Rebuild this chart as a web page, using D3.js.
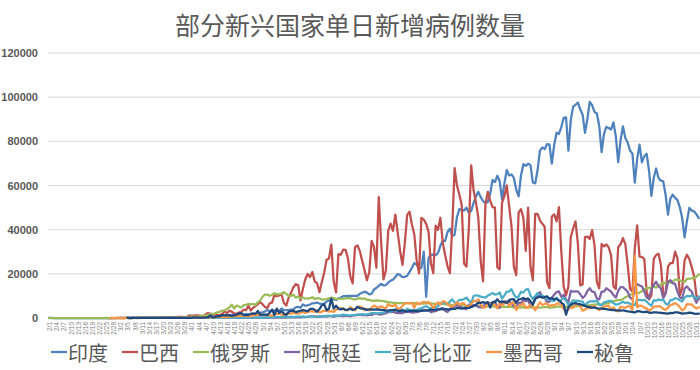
<!DOCTYPE html>
<html><head><meta charset="utf-8">
<script src="https://cdn.jsdelivr.net/npm/d3@7/dist/d3.min.js"></script>
<style>body{margin:0;background:#fff}svg{display:block}</style>
</head><body>
<svg id="chart" width="700" height="370"></svg>
<script>
const titleText = "部分新兴国家单日新增病例数量";
const seriesNames = ["印度","巴西","俄罗斯","阿根廷","哥伦比亚","墨西哥","秘鲁"];
const seriesColors = ["#4F81BD","#C0504D","#9BBB59","#8064A2","#4BACC6","#F79646","#1F497D"];
const yTickValues = [0,20000,40000,60000,80000,100000,120000];
const firstDay = "2020-02-01", lastDay = "2020-11-01";

const india = [
1,1,0,0,0,0,0,0,0,0,0,0,0,0,0,0,0,0,0,0,0,0,0,0,0,0,0,0,
0,2,1,22,2,1,3,5,9,15,8,10,7,26,5,25,25,46,50,89,73,69,77,93,65,160,156,193,106,227,146,
601,545,478,525,505,693,354,773,540,896,768,918,796,905,1463,1176,1076,957,1324,1893,1540,1290,1667,1408,1835,1607,1561,1873,1738,1801,
2396,2564,2952,3656,2971,3602,3344,3339,3175,4311,3592,3604,3524,3763,3942,4864,5050,4630,6147,5553,5720,6088,6654,6767,6977,6535,6387,6566,7466,7964,8380,
8392,8171,8909,9304,9851,9887,9971,9983,9987,9985,9996,10956,11458,11929,11502,10667,10974,12881,13586,14516,15413,14821,14933,15968,16922,17296,18552,19906,19459,18522,
18653,19148,20903,22771,24850,24248,22252,22752,30000,9600,27114,28637,28701,28498,29429,32695,34956,34884,38902,40425,37148,37724,45720,49310,48916,48661,49931,47703,48513,52123,55079,
57118,54735,52972,52050,52509,56282,62538,61537,64399,62064,53601,60963,66999,64553,65002,63490,57981,55079,64531,69652,68898,69878,69239,61408,60975,67151,75760,77266,76472,78761,78512,
69921,78357,83883,83341,86432,90632,90802,75809,89706,95735,96551,97570,94372,92071,83809,90123,97894,96424,93337,92605,86961,75083,83347,86508,86052,85362,88600,82170,70589,80472,
86821,81484,79476,75829,74442,61267,72049,78524,70496,73272,74383,66732,55342,63509,67708,63371,62212,61871,55722,46790,54044,55839,54366,53370,50129,45149,36470,43893,49881,48648,48268,
46963,45231];

const brazil = [
null,null,null,null,null,null,null,null,null,null,null,null,null,null,null,null,null,null,null,null,null,null,null,null,1,0,0,1,
0,0,0,1,5,5,6,6,0,7,9,18,25,21,23,79,34,57,137,193,283,224,418,345,310,232,482,502,487,352,323,
1138,1119,1074,1146,1222,852,926,1661,2210,1930,1781,1089,1442,1261,1832,3058,2105,3257,2917,2055,1927,2498,2678,3735,3503,5514,3379,4613,5385,6276,
7218,6209,4970,4588,6633,6935,10503,9888,10222,10611,6760,5632,9258,11385,13944,15305,14919,7938,13140,17408,19951,18508,20803,16508,15813,11687,16324,20599,26417,26928,33274,
16409,11598,28936,28633,30925,30830,27075,18912,15654,32091,32913,30412,25982,21704,17110,20647,34918,32188,22765,54771,34666,17459,21432,39436,42725,39483,46860,38693,30476,24052,
33846,46712,48105,42223,37923,26051,20229,45305,44571,42619,39023,24831,20286,41857,39924,45403,34177,28532,23529,20257,41008,67860,59961,55891,51147,24578,23284,40816,69074,57837,52383,
45392,25800,16641,51603,57152,53139,50230,49970,23010,22048,52160,55155,60091,50644,41576,23101,19373,47784,49298,45323,30355,50032,23421,17078,47134,47161,44235,42659,41350,16158,13540,
45961,46934,43773,50163,30168,14279,10273,14279,36653,40557,43718,33523,14768,15155,36653,36820,35816,39797,33057,16389,13439,33536,32445,33281,31911,28378,14318,13155,32058,33413,
36157,33413,24062,13155,11946,31553,41906,27750,27651,26749,11946,8429,10220,26749,28523,29068,24062,10920,11272,23227,24818,24858,30026,26979,10273,13493,26106,28629,26736,23046,18947,
10100,8501];

const russia = [
0,0,0,0,0,0,0,0,0,0,0,0,0,0,0,0,0,0,0,0,0,0,0,0,0,0,0,0,
0,1,0,0,1,1,0,3,7,0,8,6,11,14,4,30,20,24,52,54,53,71,57,57,163,182,196,228,270,302,500,
440,771,601,582,658,954,1154,1175,1459,1786,1667,2186,2558,2774,3388,3448,4070,4785,6060,4268,5642,5236,4774,5849,5966,6361,6198,6411,5841,7099,
7933,9623,10633,10581,10102,10559,11231,10699,10817,11012,11656,10899,10028,9974,10598,9200,9709,8926,9263,8764,8849,8894,9434,8599,8946,8915,8338,8371,8572,8952,9268,
9035,8536,8831,8726,8705,8855,8984,8985,8595,8404,8779,8987,8706,8835,8246,8248,7843,7790,7972,7889,7728,7600,7425,7176,7113,6800,6852,6791,6719,6693,
6556,6760,6718,6736,6736,6611,6368,6562,6509,6635,6632,6615,6537,6248,6422,6428,6406,6234,6109,6139,5842,5862,5811,5848,5871,5765,5635,5395,5475,5509,5482,
5462,5427,5159,5204,5267,5241,5212,5189,5241,5118,4945,5102,5057,5065,5061,4839,4892,4748,4828,4870,4838,4921,4852,4696,4744,4676,4711,4829,4980,4993,4729,
4729,4952,5110,5185,5205,5195,5099,5185,5363,5310,5449,5406,5488,5509,5529,5670,5762,5905,6065,6148,6196,6215,6431,6595,6800,7212,7523,7867,8135,8232,
8481,9412,9859,10499,10888,11615,11115,11493,12126,12846,13634,13592,13868,14231,13754,14922,15150,15982,15700,16319,15971,16521,17340,17347,17121,16550,16202,17717,17812,17975,18140,
18665,19768];

const argentina = [
null,null,null,null,null,null,null,null,null,null,null,null,null,null,null,null,null,null,null,null,null,null,null,null,null,null,null,null,
null,null,1,0,0,1,6,4,5,2,9,3,3,11,11,21,9,14,18,31,30,67,41,36,86,115,87,101,55,75,146,
88,132,98,139,89,88,87,98,86,81,76,65,100,151,99,112,136,82,116,57,144,104,112,163,174,111,90,97,167,158,
143,113,149,103,135,159,205,240,165,196,240,180,316,265,345,304,296,258,474,439,474,701,723,718,552,600,603,795,648,796,795,
564,983,949,929,840,1001,1020,750,1141,1226,1386,1391,1282,1374,1208,1393,1374,1958,2060,1634,1581,1859,2146,2635,2606,2886,2401,2189,2262,2146,
2667,2744,2845,2439,2590,2632,2979,3604,3663,3449,3442,2657,2979,3099,3645,4250,4518,3223,2738,3937,4890,5344,5782,5493,4783,4231,3969,5939,6377,5641,5929,
4951,4824,4792,6792,6693,6792,6825,7663,4688,4627,7043,7498,7482,7482,6663,5241,4785,6840,6693,8225,7513,8159,5352,6365,8713,10550,11717,9309,9230,7187,7367,
9146,10504,11743,12026,9608,10504,8333,7187,12259,11905,12027,12026,10776,9056,10104,12259,13465,11945,11750,8782,8431,11945,11945,13477,12764,11893,10394,9253,12259,14001,
14001,12969,11894,9253,8431,13520,15454,14740,14392,11994,9253,8842,12914,14932,16447,14392,13405,8904,11107,16337,17096,15718,15454,11962,9253,8842,13367,14308,12982,11994,9253,
6894,9300];

const colombia = [
null,null,null,null,null,null,null,null,null,null,null,null,null,null,null,null,null,null,null,null,null,null,null,null,null,null,null,null,
null,null,null,null,null,1,0,0,2,0,6,0,2,8,9,21,20,27,35,43,42,39,71,41,30,92,75,21,77,60,96,
108,121,97,125,83,98,118,114,175,86,101,100,74,77,85,84,120,120,104,151,189,147,154,244,254,225,167,206,231,291,
178,254,319,353,296,438,481,518,438,400,411,403,377,542,512,566,642,610,571,495,618,791,811,677,632,685,687,815,1005,1101,908,
1162,1121,1086,1187,1515,1396,1244,1244,1357,1381,1548,1530,1828,1487,1625,1877,2201,2186,2079,2171,2305,2280,3171,3088,2909,3437,4149,3274,4041,3703,
3161,4213,3616,3594,3639,3493,4163,4349,4967,5335,4735,4176,4752,4805,5335,6754,6498,6921,6268,7487,8389,6933,7123,8176,8231,8611,9208,7944,6856,9965,10284,
10142,9660,9488,9179,10144,10651,11286,10611,10841,11581,8777,10248,11997,11997,13056,10611,9331,9688,11906,11470,12830,13056,10199,8686,9954,11286,9536,10141,9535,8381,8686,
7887,7723,9196,7611,8199,9128,7768,6052,6781,8052,7720,7865,7494,7436,5573,6965,7474,7687,7539,7721,6243,5604,7054,7310,7721,7721,6769,6015,6243,6765,
7311,6765,7021,6385,5978,5839,8171,8171,8016,8235,7487,6310,5572,8058,7810,8412,8007,8390,6465,6018,8045,8177,9036,8598,8058,7480,9205,10025,9784,10194,9785,
8581,9800];

const mexico = [
null,null,null,null,null,null,null,null,null,null,null,null,null,null,null,null,null,null,null,null,null,null,null,null,null,null,2,0,
1,1,0,0,0,1,0,0,1,3,0,4,4,15,14,0,29,11,46,35,48,65,103,38,70,110,160,131,108,177,160,
163,178,141,253,125,215,296,396,260,424,442,295,450,593,422,499,448,578,622,764,1043,895,1038,1089,834,881,853,1223,1275,1425,
1515,1439,1349,1434,1122,1120,1609,1906,1938,1562,1305,1997,1992,1982,2409,2112,1938,2414,2713,2248,2713,2960,2973,2764,3455,2485,2885,3377,3227,2885,3152,
2771,3891,3912,4442,4346,3593,3484,4883,4199,3453,4883,5222,4790,3494,4147,3427,4599,5662,5030,4577,5343,4644,4505,6288,5437,5441,6104,4050,4410,5432,
6741,6740,6566,6914,4683,6995,6258,6887,7280,6891,7280,6094,4482,6094,7051,6149,7615,7257,6406,5311,5172,5874,7196,6019,6751,6637,4973,5312,6330,7730,7490,
8458,6148,4767,4853,6590,6139,6590,5858,4376,6686,5558,6686,7371,5618,6495,7371,3571,5558,5792,6751,4650,4674,6183,5223,3541,5343,7133,5824,6482,6482,5407,
5937,5615,6477,6477,6026,4120,3008,4029,4771,4647,5935,6184,5247,3335,3762,4617,4408,5408,5174,4385,3542,4408,5119,5430,5578,3718,4850,3400,3000,5098,
4820,4662,5353,5300,3712,28115,4880,5646,5468,4681,4352,3279,3964,5100,5186,5393,5112,4118,3577,4717,5786,6148,6751,6025,4858,3474,4137,6297,6209,6207,5017,
4360,4900];

const peru = [
null,null,null,null,null,null,null,null,null,null,null,null,null,null,null,null,null,null,null,null,null,null,null,null,null,null,null,null,
null,null,null,null,null,1,0,4,2,2,4,6,15,5,28,15,31,41,33,29,45,54,47,35,64,55,75,63,93,99,107,
59,92,261,183,167,114,216,246,331,1122,310,454,869,785,1304,1210,1242,1302,951,1154,1467,2064,2183,1384,1292,1304,1871,2090,1882,3175,
1444,1515,1515,1444,2292,3817,1444,4225,2292,3112,1973,1377,2741,3244,3262,2660,2964,3277,3600,3363,3035,4056,4206,3737,2803,4020,5772,6154,3527,4205,8805,
4284,5563,4284,3913,4202,3628,3830,4202,3598,3944,5087,4443,4200,4138,3598,3944,3752,3752,3913,3825,3638,3598,3458,3363,3525,3527,3557,3383,2927,3527,
3005,3005,3177,3197,3206,3264,3164,3267,3288,3350,3432,3797,3598,3797,3900,3954,4022,3997,3943,3944,4081,4113,4546,4457,4285,4538,4538,4538,5034,5395,5934,
7000,6790,7195,6790,7195,4680,7195,7195,8464,7195,7500,7225,6790,8080,8466,8507,6902,8400,8600,9100,8500,8900,7600,6000,8700,9300,9700,9200,9500,9800,8800,
9000,8400,8700,8000,7000,6200,1500,5000,6000,6600,6700,6400,6200,5900,5500,5000,4900,4600,4800,4400,4300,4200,4100,4000,3800,3700,3600,3500,3400,3300,
3500,3200,3000,2900,2700,2500,3100,3000,2800,2700,2900,2400,2300,2600,2500,2400,2300,2200,2100,2000,2300,2200,2600,2500,2300,2000,2100,2200,2400,2300,2000,
1900,2000];

const seriesValues = [india, brazil, russia, argentina, colombia, mexico, peru];

const days = d3.timeDay.range(new Date(firstDay + "T00:00"), d3.timeDay.offset(new Date(lastDay + "T00:00"), 1));
const categories = days.map(d => (d.getMonth() + 1) + "/" + d.getDate());

const svg = d3.select("#chart");
const W = 700, H = 370;
const plot = {left: 48, right: 700, top: 53, bottom: 318};

const x = d3.scalePoint().domain(categories).range([plot.left, plot.right]).padding(0.5);
const y = d3.scaleLinear().domain([0, 120000]).range([plot.bottom, plot.top]);

svg.append("text").attr("x", 350).attr("y", 35).attr("text-anchor", "middle")
  .attr("font-family", "'Noto Sans CJK SC', sans-serif").attr("font-size", 25)
  .attr("fill", "#595959").text(titleText);

const grid = svg.append("g");
grid.selectAll("line").data(yTickValues).join("line")
  .attr("x1", plot.left).attr("x2", plot.right)
  .attr("y1", d => y(d)).attr("y2", d => y(d))
  .attr("stroke", "#d9d9d9").attr("stroke-width", 1);

const yAxis = d3.axisLeft(y).tickValues(yTickValues).tickSize(0).tickPadding(10).tickFormat(d3.format("d"));
const yg = svg.append("g").attr("transform", `translate(${plot.left},0)`).call(yAxis);
yg.select(".domain").remove();
yg.selectAll("text").attr("font-family", "'Liberation Sans', Arial, sans-serif")
  .attr("font-size", 11).attr("font-weight", "bold").attr("fill", "#595959");

const xAxis = d3.axisBottom(x).tickValues(categories.filter((c, i) => i % 3 === 0)).tickSize(0).tickPadding(0);
const xg = svg.append("g").attr("transform", `translate(0,${plot.bottom})`).call(xAxis);
xg.select(".domain").remove();
xg.selectAll("text")
  .attr("font-family", "'Liberation Sans', Arial, sans-serif").attr("font-size", 6.5).attr("fill", "#7f7f7f")
  .attr("text-anchor", "end").attr("dy", null).attr("y", 0)
  .attr("transform", "translate(0,4) rotate(-90)").attr("dominant-baseline", "central");

const line = d3.line()
  .defined(v => v !== null && v !== undefined)
  .x((v, i) => x(categories[i]))
  .y(v => y(v));

const lines = svg.append("g");
seriesValues.forEach((vals, k) => {
  lines.append("path").attr("d", line(vals)).attr("fill", "none")
    .attr("stroke", seriesColors[k]).attr("stroke-width", 2.25)
    .attr("stroke-linejoin", "round").attr("stroke-linecap", "round");
});

const legend = svg.append("g");
let lx = 51;
const ly = 352;
seriesNames.forEach((name, k) => {
  legend.append("line").attr("x1", lx).attr("x2", lx + 16).attr("y1", ly).attr("y2", ly)
    .attr("stroke", seriesColors[k]).attr("stroke-width", 2.25);
  const t = legend.append("text").attr("x", lx + 17).attr("y", ly).attr("dominant-baseline", "central")
    .attr("font-family", "'Noto Sans CJK SC', sans-serif").attr("font-size", 20).attr("fill", "#595959").text(name);
  lx += 17 + t.node().getComputedTextLength() + 14;
});

seriesValues.forEach((v, k) => {
  if (v.length !== categories.length) {
    svg.append("text").attr("x", 300).attr("y", 100 + k * 12).attr("fill", "red").attr("font-size", 10)
      .text(seriesNames[k] + " len " + v.length + " vs " + categories.length);
  }
});
</script>
</body></html>
